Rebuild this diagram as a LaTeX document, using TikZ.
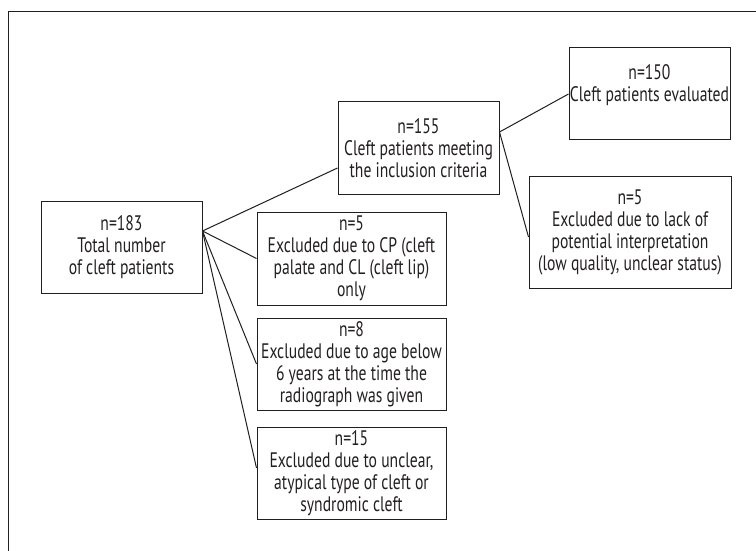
\documentclass[tikz,border=0pt]{standalone}
\usepackage{fontspec}
\setmainfont{PT Sans}[FakeStretch=0.745]
\usetikzlibrary{calc}
\definecolor{ink}{HTML}{231F20}
\tikzset{
  box/.style={draw=ink, line width=1pt, text=ink, align=center, inner sep=0pt,
    font=\fontsize{21}{22}\selectfont},
  link/.style={draw=ink, line width=1pt}
}
\begin{document}
\begin{tikzpicture}[x=1pt,y=-1pt]
\useasboundingbox (0,0) rectangle (756,551);
\draw[link] (8,551) -- (8,12) -- (756,12);
\node[box, minimum width=161pt, minimum height=92pt] (total) at (121.5,247) {n=183\\Total number\\of cleft patients};
\node[box, minimum width=161pt, minimum height=92pt] (incl) at (418.5,148) {n=155\\Cleft patients meeting\\the inclusion criteria};
\node[box, minimum width=161pt, minimum height=92pt] (eval) at (649.5,94) {n=150\\Cleft patients evaluated\\\mbox{}};
\node[box, minimum width=202pt, minimum height=112pt] (lack) at (630,232) {n=5\\Excluded due to lack of\\potential interpretation\\(low quality, unclear status)};
\node[box, minimum width=189pt, minimum height=93pt] (cp) at (351.5,258.5) {n=5\\Excluded due to CP (cleft\\palate and CL (cleft lip)\\only};
\node[box, minimum width=189pt, minimum height=92pt] (age) at (351.5,364) {n=8\\Excluded due to age below\\6 years at the time the\\radiograph was given};
\node[box, minimum width=189pt, minimum height=92pt] (atyp) at (351.5,473) {n=15\\Excluded due to unclear,\\atypical type of cleft or\\syndromic cleft};
\coordinate (tp) at ($(total.east)+(0,-16)$);
\coordinate (ip) at ($(incl.east)+(0,-16)$);
\draw[link] (tp) -- ($(incl.west)+(0,20)$);
\draw[link] (tp) -- (cp.west);
\draw[link] (tp) -- (age.west);
\draw[link] (tp) -- ($(atyp.west)+(0,-5)$);
\draw[link] (ip) -- (eval.west);
\draw[link] (ip) -- ($(lack.west)+(0,5)$);
\end{tikzpicture}
\end{document}
